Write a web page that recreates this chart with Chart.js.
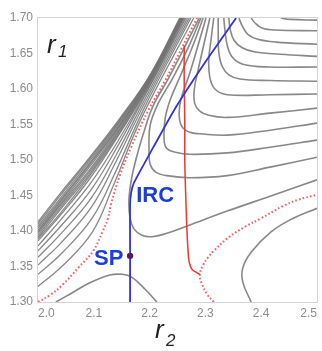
<!DOCTYPE html>
<html><head><meta charset="utf-8">
<script src="https://cdn.jsdelivr.net/npm/chart.js@4.4.1/dist/chart.umd.min.js"></script>
<style>html,body{margin:0;padding:0;background:#fff;}canvas{display:block;}</style>
</head><body>
<canvas id="c" width="322" height="351" style="width:322px;height:351px"></canvas>
<script>
// ---- axis ticks ----
const r2Ticks = [2.0, 2.1, 2.2, 2.3, 2.4, 2.5];
const r1Ticks = [1.30, 1.35, 1.40, 1.45, 1.50, 1.55, 1.60, 1.65, 1.70];

// ---- repulsive-wall contours (left of the dotted curve) ----
const W1_r2 = [2.000, 2.039, 2.093, 2.147, 2.201, 2.254], W1_r1 = [1.413, 1.452, 1.504, 1.559, 1.620, 1.700];
const W1b_r2 = [2.000, 2.039, 2.093, 2.147, 2.200, 2.255], W1b_r1 = [1.410, 1.449, 1.502, 1.557, 1.618, 1.700];
const W2_r2 = [2.000, 2.040, 2.093, 2.146, 2.200, 2.256], W2_r1 = [1.407, 1.446, 1.499, 1.554, 1.617, 1.700];
const W2b_r2 = [2.000, 2.040, 2.093, 2.146, 2.200, 2.256], W2b_r1 = [1.404, 1.443, 1.496, 1.552, 1.615, 1.700];
const W3_r2 = [2.000, 2.040, 2.093, 2.146, 2.199, 2.257], W3_r1 = [1.401, 1.441, 1.494, 1.549, 1.614, 1.700];
const W3b_r2 = [2.000, 2.040, 2.093, 2.145, 2.199, 2.257], W3b_r1 = [1.399, 1.438, 1.491, 1.547, 1.612, 1.700];
const W4_r2 = [2.000, 2.040, 2.094, 2.145, 2.199, 2.258], W4_r1 = [1.397, 1.436, 1.488, 1.545, 1.611, 1.700];
const W4b_r2 = [2.000, 2.040, 2.094, 2.145, 2.198, 2.259], W4b_r1 = [1.394, 1.433, 1.485, 1.542, 1.609, 1.700];
const W5_r2 = [2.000, 2.040, 2.094, 2.144, 2.198, 2.260], W5_r1 = [1.391, 1.430, 1.482, 1.539, 1.607, 1.700];
const W5b_r2 = [2.000, 2.041, 2.094, 2.144, 2.197, 2.260], W5b_r1 = [1.389, 1.426, 1.479, 1.536, 1.605, 1.700];
const W6_r2 = [2.000, 2.041, 2.094, 2.143, 2.197, 2.261], W6_r1 = [1.386, 1.423, 1.475, 1.533, 1.603, 1.700];
const W7_r2 = [2.000, 2.041, 2.094, 2.142, 2.196, 2.263], W7_r1 = [1.379, 1.416, 1.467, 1.525, 1.599, 1.700];
const W8_r2 = [2.000, 2.041, 2.095, 2.141, 2.194, 2.265], W8_r1 = [1.372, 1.407, 1.458, 1.517, 1.594, 1.700];
const W9_r2 = [2.000, 2.042, 2.096, 2.140, 2.193, 2.268], W9_r1 = [1.363, 1.397, 1.447, 1.507, 1.588, 1.700];
const W10_r2 = [2.000, 2.042, 2.096, 2.138, 2.191, 2.271], W10_r1 = [1.352, 1.384, 1.434, 1.495, 1.580, 1.700];
const W11_r2 = [2.000, 2.043, 2.097, 2.137, 2.189, 2.274], W11_r1 = [1.339, 1.369, 1.418, 1.480, 1.571, 1.700];
const W12_r2 = [2.000, 2.044, 2.097, 2.134, 2.186, 2.279], W12_r1 = [1.322, 1.351, 1.398, 1.462, 1.560, 1.700];

// ---- L-shaped contours (top edge -> right edge) ----
const L1_r2 = [2.435, 2.452, 2.500], L1_r1 = [1.700, 1.698, 1.697];
const L2_r2 = [2.382, 2.389, 2.401, 2.425, 2.500], L2_r1 = [1.700, 1.693, 1.686, 1.683, 1.682];
const L3_r2 = [2.360, 2.366, 2.376, 2.394, 2.427, 2.500], L3_r1 = [1.700, 1.689, 1.677, 1.670, 1.666, 1.663];
const L4_r2 = [2.342, 2.344, 2.351, 2.366, 2.389, 2.434, 2.500], L4_r1 = [1.700, 1.686, 1.669, 1.658, 1.652, 1.649, 1.646];
const L5_r2 = [2.333, 2.335, 2.339, 2.348, 2.367, 2.414, 2.500], L5_r1 = [1.700, 1.683, 1.662, 1.645, 1.635, 1.631, 1.631];
const L6_r2 = [2.323, 2.323, 2.324, 2.330, 2.342, 2.362, 2.416, 2.500], L6_r1 = [1.700, 1.676, 1.652, 1.632, 1.620, 1.614, 1.612, 1.611];
const L7_r2 = [2.315, 2.310, 2.306, 2.308, 2.317, 2.339, 2.416, 2.500], L7_r1 = [1.700, 1.669, 1.641, 1.616, 1.600, 1.592, 1.592, 1.593];
const L8_r2 = [2.308, 2.297, 2.287, 2.280, 2.281, 2.290, 2.306, 2.339, 2.416, 2.500], L8_r1 = [1.700, 1.662, 1.627, 1.599, 1.579, 1.569, 1.563, 1.560, 1.566, 1.573];
const L9_r2 = [2.301, 2.287, 2.271, 2.256, 2.253, 2.258, 2.272, 2.290, 2.339, 2.416, 2.500], L9_r1 = [1.700, 1.662, 1.620, 1.585, 1.563, 1.547, 1.539, 1.537, 1.535, 1.542, 1.552];
const L10_r2 = [2.296, 2.278, 2.256, 2.237, 2.228, 2.226, 2.231, 2.246, 2.272, 2.339, 2.416, 2.500], L10_r1 = [1.700, 1.662, 1.620, 1.585, 1.559, 1.528, 1.516, 1.511, 1.508, 1.510, 1.518, 1.528];
const L11_r2 = [2.292, 2.269, 2.242, 2.215, 2.201, 2.199, 2.201, 2.211, 2.231, 2.272, 2.339, 2.416, 2.500], L11_r1 = [1.700, 1.658, 1.616, 1.579, 1.549, 1.514, 1.494, 1.483, 1.478, 1.475, 1.478, 1.490, 1.504];
const L12_r2 = [2.289, 2.262, 2.233, 2.206, 2.192, 2.179, 2.168, 2.163, 2.165, 2.172, 2.186, 2.204, 2.228, 2.267, 2.339, 2.416, 2.500], L12_r1 = [1.700, 1.658, 1.614, 1.576, 1.545, 1.511, 1.475, 1.444, 1.418, 1.403, 1.394, 1.392, 1.396, 1.407, 1.428, 1.449, 1.472];

// ---- lower contours ----
const Bump_r2 = [2.032, 2.057, 2.093, 2.129, 2.151, 2.168, 2.192, 2.213], Bump_r1 = [1.300, 1.311, 1.327, 1.338, 1.339, 1.335, 1.318, 1.300];
const Hyp_r2 = [2.500, 2.455, 2.418, 2.382, 2.367, 2.367, 2.382], Hyp_r1 = [1.432, 1.417, 1.399, 1.370, 1.348, 1.328, 1.300];

// ---- red dotted curves ----
const RDL_r2 = [2.000, 2.022, 2.045, 2.073, 2.099, 2.116, 2.125, 2.131, 2.147, 2.167, 2.199, 2.228, 2.256, 2.285];
const RDL_r1 = [1.300, 1.310, 1.325, 1.349, 1.372, 1.400, 1.417, 1.438, 1.479, 1.518, 1.572, 1.612, 1.655, 1.700];
const RDR_r2 = [2.315, 2.303, 2.294, 2.290, 2.296, 2.305, 2.315, 2.340, 2.371, 2.400, 2.439, 2.466, 2.500];
const RDR_r1 = [1.300, 1.311, 1.325, 1.339, 1.352, 1.363, 1.372, 1.390, 1.406, 1.418, 1.435, 1.444, 1.451];

// ---- red trajectory ----
const TR_r2 = [2.262, 2.262, 2.263, 2.263, 2.265, 2.267, 2.269, 2.271, 2.276, 2.283, 2.290];
const TR_r1 = [1.661, 1.612, 1.556, 1.500, 1.444, 1.399, 1.371, 1.356, 1.346, 1.342, 1.339];

// ---- IRC and saddle point ----
const IRC_r2 = [2.165, 2.165, 2.165, 2.167, 2.172, 2.206, 2.246, 2.299, 2.355];
const IRC_r1 = [1.300, 1.365, 1.437, 1.454, 1.468, 1.517, 1.573, 1.637, 1.700];
const SP_r2 = [2.165], SP_r1 = [1.365];

const zip = (a, b) => a.map((v, i) => ({x: v, y: b[i]}));
const GRAY = 'rgba(115,115,115,0.85)';

const walls = [[W1_r2,W1_r1],[W1b_r2,W1b_r1],[W2_r2,W2_r1],[W2b_r2,W2b_r1],[W3_r2,W3_r1],[W3b_r2,W3b_r1],
  [W4_r2,W4_r1],[W4b_r2,W4b_r1],[W5_r2,W5_r1],[W5b_r2,W5b_r1],[W6_r2,W6_r1],
  [W7_r2,W7_r1],[W8_r2,W8_r1],[W9_r2,W9_r1],[W10_r2,W10_r1],[W11_r2,W11_r1],[W12_r2,W12_r1]];
const ells = [[L1_r2,L1_r1],[L2_r2,L2_r1],[L3_r2,L3_r1],[L4_r2,L4_r1],[L5_r2,L5_r1],[L6_r2,L6_r1],
  [L7_r2,L7_r1],[L8_r2,L8_r1],[L9_r2,L9_r1],[L10_r2,L10_r1],[L11_r2,L11_r1],[L12_r2,L12_r1],
  [Bump_r2,Bump_r1],[Hyp_r2,Hyp_r1]];

const datasets = [];
datasets.push({data: zip(SP_r2, SP_r1), showLine: false, pointRadius: 3.2, pointBackgroundColor: '#5b1563', pointBorderWidth: 0, order: 0});
datasets.push({data: zip(IRC_r2, IRC_r1), showLine: true, borderColor: '#3434d6', borderWidth: 1.8, pointRadius: 0, tension: 0.2, order: 1});
datasets.push({data: zip(TR_r2, TR_r1), showLine: true, borderColor: '#e53a33', borderWidth: 1.5, pointRadius: 0, tension: 0.3, order: 2});
datasets.push({data: zip(RDL_r2, RDL_r1), showLine: true, borderColor: 'rgba(238,80,80,0.9)', borderWidth: 2, borderDash: [1.6, 2.2], pointRadius: 0, tension: 0.4, order: 3});
datasets.push({data: zip(RDR_r2, RDR_r1), showLine: true, borderColor: 'rgba(238,80,80,0.9)', borderWidth: 2, borderDash: [1.6, 2.2], pointRadius: 0, tension: 0.4, order: 3});
ells.forEach(p => datasets.push({data: zip(p[0], p[1]), showLine: true, borderColor: GRAY, borderWidth: 1.6, pointRadius: 0, tension: 0.4, order: 5}));
walls.forEach(p => datasets.push({data: zip(p[0], p[1]), showLine: true, borderColor: GRAY, borderWidth: 1.3, pointRadius: 0, tension: 0.4, order: 6}));

const FONT = '"Liberation Sans", Arial, sans-serif';
const deco = {
  id: 'deco',
  beforeDatasetsDraw(chart) {
    const {ctx, chartArea: a} = chart;
    ctx.save();
    ctx.strokeStyle = '#d4d4d4'; ctx.lineWidth = 1;
    ctx.strokeRect(a.left - 0.5, a.top - 0.5, a.right - a.left + 1, a.bottom - a.top + 1);
    ctx.restore();
  },
  afterDatasetsDraw(chart) {
    const {ctx, scales: {x, y}} = chart;
    ctx.save();
    ctx.fillStyle = '#1e3cd8';
    ctx.font = 'bold 22px ' + FONT;
    ctx.textBaseline = 'middle';
    ctx.textAlign = 'right';
    ctx.fillText('SP', x.getPixelForValue(2.153), y.getPixelForValue(1.361));
    ctx.textAlign = 'left';
    ctx.fillText('IRC', x.getPixelForValue(2.176), y.getPixelForValue(1.449));
    ctx.restore();
  },
  afterDraw(chart) {
    const {ctx} = chart;
    ctx.save();
    ctx.fillStyle = '#222';
    ctx.textBaseline = 'alphabetic';
    ctx.textAlign = 'left';
    ctx.font = 'italic 26px ' + FONT;
    ctx.fillText('r', 47, 53);
    ctx.font = 'italic 17px ' + FONT;
    ctx.fillText('1', 58, 57);
    ctx.font = 'italic 26px ' + FONT;
    ctx.fillText('r', 155, 338);
    ctx.font = 'italic 17px ' + FONT;
    ctx.fillText('2', 166, 346);
    ctx.restore();
  }
};

new Chart(document.getElementById('c'), {
  type: 'scatter',
  data: {datasets},
  options: {
    responsive: false,
    animation: false,
    devicePixelRatio: 1,
    layout: {padding: {top: 18, right: 5, left: 0, bottom: 0}},
    plugins: {legend: {display: false}, tooltip: {enabled: false}},
    scales: {
      x: {
        type: 'linear', min: 2.0, max: 2.5,
        afterBuildTicks: s => { s.ticks = r2Ticks.map(v => ({value: v})); },
        afterFit: s => { s.height = 49; },
        grid: {display: false, drawTicks: false},
        border: {display: false},
        ticks: {padding: 4, align: 'inner', color: '#8c8c8c', font: {family: FONT, size: 12}, maxRotation: 0, callback: v => Number(v).toFixed(1)}
      },
      y: {
        type: 'linear', min: 1.30, max: 1.70,
        afterBuildTicks: s => { s.ticks = r1Ticks.map(v => ({value: v})); },
        afterFit: s => { s.width = 38; },
        grid: {display: false, drawTicks: false},
        border: {display: false},
        ticks: {padding: 5, color: '#8c8c8c', font: {family: FONT, size: 12}, callback: v => Number(v).toFixed(2)}
      }
    }
  },
  plugins: [deco]
});
</script>
</body></html>
